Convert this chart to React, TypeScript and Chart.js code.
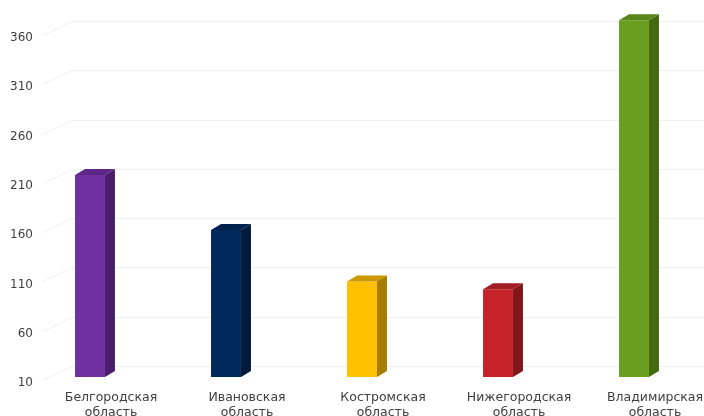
import React, { useEffect, useRef } from "react";
import { Chart, registerables } from "chart.js";

Chart.register(...registerables);

// ---- data ----
const categories: string[][] = [
  ["Белгородская", "область"],
  ["Ивановская", "область"],
  ["Костромская", "область"],
  ["Нижегородская", "область"],
  ["Владимирская", "область"],
];
const values: number[] = [215, 159, 107, 99, 372];
const yTicks: number[] = [10, 60, 110, 160, 210, 260, 310, 360];
const yMin = 10;
const yMax = 390;

// ---- styles ----
const frontColors = ["#7030A0", "#002A5C", "#FFC000", "#C62328", "#6A9E1F"];
const sideColors = ["#4A1E6C", "#001A3B", "#A67D00", "#82161A", "#456910"];
const topColors = ["#5C2786", "#00224C", "#CC9A00", "#A11D21", "#598619"];
const DX = 10;
const DY = 6;
const FONT = "'DejaVu Sans', sans-serif";
const TEXT = "#404040";

const bar3d = {
  id: "bar3d",
  beforeDatasetsDraw(chart: any) {
    const ctx = chart.ctx;
    const y = chart.scales.y;
    const left = chart.chartArea.left;
    ctx.save();
    ctx.strokeStyle = "#f0f0f0";
    ctx.lineWidth = 1;
    y.ticks.forEach((t: any) => {
      const p = Math.round(y.getPixelForValue(t.value)) + 0.5;
      ctx.beginPath();
      ctx.moveTo(left + 21, p + 3);
      ctx.lineTo(left + 50, p - 11);
      ctx.lineTo(chart.width, p - 11);
      ctx.stroke();
    });
    ctx.restore();
  },
  afterDatasetsDraw(chart: any) {
    const ctx = chart.ctx;
    const meta = chart.getDatasetMeta(0);
    const bottom = chart.chartArea.bottom;
    ctx.save();
    meta.data.forEach((bar: any, i: number) => {
      const p = bar.getProps(["x", "y", "base", "width"], true);
      const x = p.x;
      const y = p.y;
      const width = p.width;
      const base = Math.min(p.base, bottom);
      const L = x - width / 2;
      const R = x + width / 2;
      ctx.fillStyle = topColors[i];
      ctx.beginPath();
      ctx.moveTo(L, y);
      ctx.lineTo(L + DX, y - DY);
      ctx.lineTo(R + DX, y - DY);
      ctx.lineTo(R, y);
      ctx.closePath();
      ctx.fill();
      ctx.fillStyle = sideColors[i];
      ctx.beginPath();
      ctx.moveTo(R, y);
      ctx.lineTo(R + DX, y - DY);
      ctx.lineTo(R + DX, base - DY);
      ctx.lineTo(R, base);
      ctx.closePath();
      ctx.fill();
    });
    ctx.restore();
  },
};

export default function App() {
  const ref = useRef<HTMLCanvasElement | null>(null);
  useEffect(() => {
    if (!ref.current) return;
    const chart = new Chart(ref.current, {
      type: "bar",
      data: {
        labels: categories,
        datasets: [
          {
            data: values,
            backgroundColor: frontColors,
            borderWidth: 0,
            barPercentage: 0.22,
            categoryPercentage: 1,
          },
        ],
      },
      options: {
        responsive: false,
        animation: false,
        devicePixelRatio: 1,
        layout: { padding: { top: 2.4, right: 2, left: 0, bottom: 0 } },
        plugins: { legend: { display: false }, tooltip: { enabled: false } },
        scales: {
          x: {
            type: "category",
            offset: true,
            grid: { display: false, drawTicks: false },
            border: { display: false },
            ticks: {
              color: TEXT,
              font: { family: FONT, size: 12.5, lineHeight: 1.2 },
              padding: 13.5,
              labelOffset: 21,
              maxRotation: 0,
              minRotation: 0,
              autoSkip: false,
            },
            afterFit: (s: any) => {
              s.height = 39;
            },
          },
          y: {
            min: yMin,
            max: yMax,
            grid: { display: false, drawTicks: false },
            border: { display: false },
            afterBuildTicks: (s: any) => {
              s.ticks = yTicks.map((v) => ({ value: v }));
            },
            ticks: {
              color: TEXT,
              font: { family: FONT, size: 12 },
              mirror: true,
              crossAlign: "far",
              padding: -12,
              labelOffset: 6,
            },
            afterFit: (s: any) => {
              s.width = 22;
            },
          },
        },
      },
      plugins: [bar3d],
    });
    return () => chart.destroy();
  }, []);
  return (
    <div style={{ position: "fixed", left: 0, top: 0, width: 704, height: 416, overflow: "hidden", background: "#fff" }}>
      <canvas ref={ref} width={704} height={416} style={{ display: "block" }} />
    </div>
  );
}
